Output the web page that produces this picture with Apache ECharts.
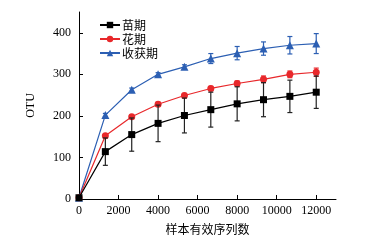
<!DOCTYPE html>
<html>
<head>
<meta charset="utf-8">
<script src="https://cdn.jsdelivr.net/npm/echarts@6/dist/echarts.min.js"></script>
<style>
  html, body { margin: 0; padding: 0; background: #fff; }
  #chart { width: 368px; height: 240px; }
</style>
</head>
<body>
<div id="chart"></div>
<script>
// 横坐标：样本有效序列数
var depths = [0, 1333, 2667, 4000, 5333, 6667, 8000, 9333, 10667, 12000];
var xTicks = [0, 2000, 4000, 6000, 8000, 10000, 12000];
var yTicks = [0, 100, 200, 300, 400];

var seriesNames = ['苗期', '花期', '收获期'];
// 苗期
var miaoMean = [3, 114, 155, 182, 201, 215, 229, 239, 247, 257];
var miaoErr = [0, 33, 40, 44, 42, 42, 41, 41, 39, 39];
// 花期
var huaMean = [3, 152, 198, 228, 249, 266, 278, 288, 300, 305];
var huaErr = [0, 4, 4, 5, 5, 5, 6, 8, 8, 10];
// 收获期
var shouMean = [3, 202, 263, 300, 318, 338, 351, 362, 370, 374];
var shouErr = [0, 4, 4, 4, 5, 12, 16, 16, 21, 24];

var colors = ['#000000', '#e8282b', '#2c5fb3'];
var symbols = ['rect', 'circle', 'triangle'];

function pairs(mean) {
    return depths.map(function (d, i) { return [d, mean[i]]; });
}

function errData(mean, err) {
    return depths.map(function (d, i) { return [d, mean[i] - err[i], mean[i] + err[i]]; });
}

function errSeries(mean, err, color, z) {
    return {
        type: 'custom',
        z: z,
        silent: true,
        data: errData(mean, err),
        renderItem: function (params, api) {
            var lo = api.coord([api.value(0), api.value(1)]);
            var hi = api.coord([api.value(0), api.value(2)]);
            var w = 2.5;
            var style = { stroke: color, lineWidth: 1.2 };
            return {
                type: 'group',
                children: [
                    { type: 'line', shape: { x1: lo[0], y1: lo[1], x2: hi[0], y2: hi[1] }, style: style },
                    { type: 'line', shape: { x1: lo[0] - w, y1: lo[1], x2: lo[0] + w, y2: lo[1] }, style: style },
                    { type: 'line', shape: { x1: hi[0] - w, y1: hi[1], x2: hi[0] + w, y2: hi[1] }, style: style }
                ]
            };
        }
    };
}

function lineSeries(idx, mean, z) {
    return {
        name: seriesNames[idx],
        type: 'line',
        z: z,
        data: pairs(mean),
        symbol: symbols[idx],
        symbolSize: idx === 2 ? 8 : 7,
        showAllSymbol: true,
        lineStyle: { color: colors[idx], width: 1.2 },
        itemStyle: { color: colors[idx] }
    };
}

var dom = document.getElementById('chart');
var myChart = echarts.init(dom, null, { renderer: 'canvas' });

var axisFont = { fontFamily: 'Liberation Serif', fontSize: 12, color: '#000' };
var plain = function (v) { return String(v); };

var option = {
    backgroundColor: '#fff',
    animation: false,
    grid: { left: 79, right: 32, top: 12, bottom: 40 },
    legend: {
        data: seriesNames,
        orient: 'vertical',
        left: 94,
        top: 14,
        itemWidth: 20,
        itemHeight: 8,
        itemGap: 2,
        textStyle: { fontFamily: 'Noto Sans CJK SC', fontSize: 12, color: '#000', padding: [0, 0, 0, -3] }
    },
    xAxis: {
        type: 'value',
        min: 0,
        max: 13000,
        name: '样本有效序列数',
        nameLocation: 'middle',
        nameGap: 24,
        nameTextStyle: { fontFamily: 'Noto Sans CJK SC', fontSize: 12, color: '#000' },
        splitLine: { show: false },
        axisLine: { lineStyle: { color: '#000', width: 1 } },
        axisTick: { inside: true, length: 4, customValues: xTicks, lineStyle: { color: '#000' } },
        axisLabel: Object.assign({ customValues: xTicks, margin: 6, formatter: plain }, axisFont)
    },
    yAxis: {
        type: 'value',
        min: 0,
        max: 450,
        name: 'OTU',
        nameLocation: 'middle',
        nameGap: 42,
        nameRotate: 90,
        nameTextStyle: { fontFamily: 'Liberation Serif', fontSize: 12, color: '#000' },
        splitLine: { show: false },
        axisLine: { show: true, lineStyle: { color: '#000', width: 1 } },
        axisTick: { show: true, inside: true, length: 4, customValues: yTicks, lineStyle: { color: '#000' } },
        axisLabel: Object.assign({ customValues: yTicks, margin: 8, formatter: plain }, axisFont)
    },
    series: [
        errSeries(shouMean, shouErr, colors[2], 1),
        lineSeries(2, shouMean, 2),
        errSeries(huaMean, huaErr, colors[1], 3),
        lineSeries(1, huaMean, 4),
        errSeries(miaoMean, miaoErr, '#222', 5),
        lineSeries(0, miaoMean, 6)
    ]
};

myChart.setOption(option, true);
</script>
</body>
</html>
